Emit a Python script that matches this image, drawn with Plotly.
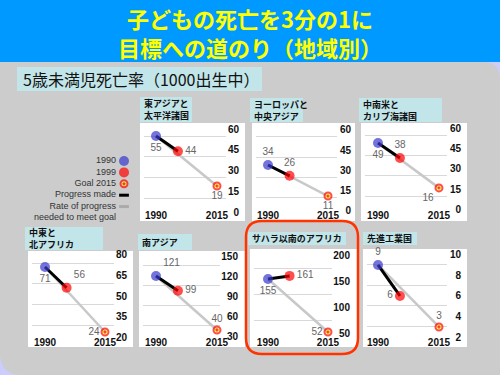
import plotly.graph_objects as go

# ---------------- data ----------------
title_lines = ["子どもの死亡を3分の1に", "目標への道のり（地域別）"]
subtitle = "5歳未満児死亡率（1000出生中）"
regions = ["東アジアと<br>太平洋諸国", "ヨーロッパと<br>中央アジア", "中南米と<br>カリブ海諸国",
           "中東と<br>北アフリカ", "南アジア", "サハラ以南のアフリカ", "先進工業国"]
years = [1990, 1999, 2015]
year_ticks = [1990, 2015]
rate_1990 = [55, 34, 49, 71, 121, 155, 9]
rate_1999 = [44, 26, 38, 56, 99, 161, 6]
goal_2015 = [19, 11, 16, 24, 40, 52, 3]
y_ticks = [[0, 15, 30, 45, 60], [0, 15, 30, 45, 60], [0, 15, 30, 45, 60],
           [20, 35, 50, 65, 80], [30, 60, 90, 120, 150], [50, 100, 150, 200],
           [2, 4, 6, 8, 10]]
legend_labels = ["1990", "1999", "Goal 2015", "Progress made", "Rate of progress",
                 "needed to meet goal"]

# ---------------- layout / style ----------------
W, H = 500, 375
def fx(p): return p / W
def fy(p): return 1 - p / H

panel_box = [(140, 245, 123, 221), (252, 355, 123, 221), (361, 467, 123, 221),
             (28, 133, 251, 347), (139, 245, 251, 347), (250, 357, 249, 347),
             (363, 467, 249, 347)]
label_box = [(140, 192, 97, 122), (250, 303, 98, 122), (359, 442, 98, 122),
             (25, 103, 227, 250), (138, 192, 234, 250), (248, 346, 232, 245),
             (363, 417, 232, 245)]
plot_x = [(144, 242), (256, 354), (365, 464), (32, 130), (143, 241), (254, 353), (367, 464)]
grid_x = [(144, 226), (256, 337), (365, 447), (32, 114), (143, 220), (254, 332), (367, 447)]
x_range = [(1985.08, 2025.25), (1985.0, 2025.83), (1984.67, 2025.25), (1984.58, 2025.42),
           (1984.67, 2024.84), (1984.17, 2025.42), (1985.49, 2025.25)]
# y ranges valid for the domain [box top + 1, box bottom - 1]
y_range = [(-5.43, 63.63), (-6.74, 64.37), (-7.62, 62.97), (13.88, 81.85),
           (16.05, 157.0), (24.9, 211.3), (1.16, 10.45)]
EXT = 10  # extend the axis domain by this many px on both sides (range scaled to match)
grid_shift = [7, 7, 7, 8.5, 9, 13, 10]
year_label_y = [215, 215, 215, 342, 342, 342, 342]
text_pos = [["bottom center", "middle right", "bottom center"],
            ["top center", "top center", "bottom center"],
            ["bottom center", "top center", "bottom left"],
            ["bottom center", "top right", "middle left"],
            ["top right", "middle right", "top center"],
            ["bottom center", "middle right", "middle left"],
            ["top center", "middle left", "top center"]]

BLUE = "#3838CC"
RED = "#FF0000"
YELLOW = "#FFFF00"
GRAYLINE = "#C8C8C8"
CYAN = "#C2E5E9"
NUMFONT = "Liberation Sans, Arial, sans-serif"
CJK = "Noto Sans CJK JP, sans-serif"

fig = go.Figure()
layout = dict(width=W, height=H, margin=dict(l=0, r=0, t=0, b=0),
              paper_bgcolor="#CCCCFF", plot_bgcolor="rgba(0,0,0,0)",
              showlegend=False, hovermode=False)

def ax_name(kind, n):
    return kind + "axis" + ("" if n == 1 else str(n))

def ref(kind, n):
    return kind + ("" if n == 1 else str(n))

for i in range(len(regions)):
    g = 2 * i + 1   # grid subplot (drawn first, underneath)
    d = 2 * i + 2   # data subplot
    wx0, wx1, wy0, wy1 = panel_box[i]
    top_px, bot_px = wy0 + 1, wy1 - 1
    lo, hi = y_range[i]
    upp = (hi - lo) / (bot_px - top_px)
    lo, hi = lo - EXT * upp, hi + EXT * upp
    ydom = [fy(bot_px + EXT), fy(top_px - EXT)]
    sh = grid_shift[i] * upp

    layout[ax_name("x", g)] = dict(domain=[fx(grid_x[i][0]), fx(grid_x[i][1])], range=[0, 1],
                                    anchor=ref("y", g), visible=False, fixedrange=True)
    layout[ax_name("y", g)] = dict(domain=ydom, range=[lo + sh, hi + sh], anchor=ref("x", g),
                                    showgrid=True, gridcolor="#D9D9D9", gridwidth=1,
                                    tickvals=y_ticks[i][1:], showticklabels=False,
                                    zeroline=False, showline=False, ticks="", fixedrange=True)
    fig.add_trace(go.Scatter(x=[], y=[], xaxis=ref("x", g), yaxis=ref("y", g),
                             hoverinfo="skip"))

    layout[ax_name("x", d)] = dict(domain=[fx(plot_x[i][0]), fx(plot_x[i][1])],
                                    range=list(x_range[i]), anchor="free",
                                    position=fy(year_label_y[i] - 7),
                                    tickvals=year_ticks,
                                    ticktext=["<b>%d</b>" % t for t in year_ticks],
                                    tickfont=dict(family=NUMFONT, size=10, color="#111"),
                                    showgrid=False, zeroline=False, showline=False,
                                    ticks="", fixedrange=True)
    layout[ax_name("y", d)] = dict(domain=ydom, range=[lo, hi], anchor=ref("x", d),
                                    side="right", ticklabelposition="inside",
                                    tickvals=y_ticks[i],
                                    ticktext=["<b>%d</b>" % t for t in y_ticks[i]],
                                    tickfont=dict(family=NUMFONT, size=10, color="#111"),
                                    showgrid=False, zeroline=False, showline=False,
                                    ticks="", fixedrange=True)
    xr, yr = ref("x", d), ref("y", d)
    fig.add_trace(go.Scatter(x=[years[0], years[2]], y=[rate_1990[i], goal_2015[i]],
                             mode="lines", line=dict(color=GRAYLINE, width=2.5),
                             xaxis=xr, yaxis=yr, hoverinfo="skip", cliponaxis=False))
    fig.add_trace(go.Scatter(x=[years[0], years[1]], y=[rate_1990[i], rate_1999[i]],
                             mode="lines", line=dict(color="#000000", width=3),
                             xaxis=xr, yaxis=yr, hoverinfo="skip", cliponaxis=False))
    vals = [rate_1990[i], rate_1999[i], goal_2015[i]]
    fig.add_trace(go.Scatter(
        x=years, y=vals, mode="markers+text", text=[str(v) for v in vals],
        textposition=text_pos[i],
        textfont=dict(family=NUMFONT, size=10, color="#666666"),
        marker=dict(symbol=["circle", "circle", "circle-dot"], size=[10, 10, 7],
                    color=[BLUE, RED, YELLOW],
                    line=dict(color=[BLUE, RED, RED], width=[0, 0, 2])),
        xaxis=xr, yaxis=yr, hoverinfo="skip", cliponaxis=False))

# legend subplot
L = 15
layout[ax_name("x", L)] = dict(domain=[fx(110), fx(138)], range=[-1, 1], visible=False,
                                anchor=ref("y", L), fixedrange=True)
layout[ax_name("y", L)] = dict(domain=[fy(223.7), fy(155.3)], range=[5.5, -0.5], visible=False,
                                anchor=ref("x", L), fixedrange=True)
leg_font = dict(family=NUMFONT, size=9, color="#333333")
leg_idx = list(range(len(legend_labels)))
fig.add_trace(go.Scatter(
    x=[0, 0, 0], y=leg_idx[:3], mode="markers",
    marker=dict(symbol=["circle", "circle", "circle-dot"], size=[10, 10, 7],
                color=[BLUE, RED, YELLOW], line=dict(color=[BLUE, RED, RED], width=[0, 0, 2])),
    xaxis=ref("x", L), yaxis=ref("y", L), hoverinfo="skip", cliponaxis=False))
fig.add_trace(go.Scatter(
    x=[0, 0], y=leg_idx[3:5], mode="markers",
    marker=dict(symbol="line-ew", size=7, line=dict(color=["#000000", "#AAAAAA"], width=3)),
    xaxis=ref("x", L), yaxis=ref("y", L), hoverinfo="skip", cliponaxis=False))
fig.add_trace(go.Scatter(
    x=[0] * len(legend_labels), y=leg_idx, mode="markers+text", text=legend_labels,
    textposition="middle left", textfont=leg_font,
    marker=dict(size=11, color="rgba(0,0,0,0)"),
    xaxis=ref("x", L), yaxis=ref("y", L), hoverinfo="skip", cliponaxis=False))

# ---------------- shapes ----------------
def path(cmds):
    out = []
    for c in cmds:
        if isinstance(c, str):
            out.append(c)
        else:
            out.append("%.5f,%.5f" % (fx(c[0]), fy(c[1])))
    return " ".join(out)

def rrect(x0, y0, x1, y1, r):
    return path(["M", (x0 + r, y0), "L", (x1 - r, y0), "Q", (x1, y0), (x1, y0 + r),
                 "L", (x1, y1 - r), "Q", (x1, y1), (x1 - r, y1),
                 "L", (x0 + r, y1), "Q", (x0, y1), (x0, y1 - r),
                 "L", (x0, y0 + r), "Q", (x0, y0), (x0 + r, y0), "Z"])

shapes = []
shapes.append(dict(type="path", xref="paper", yref="paper", layer="below",
                   path=path(["M", (0, 62), "L", (483, 62), "Q", (500, 62), (500, 79),
                              "L", (500, 375), "L", (22, 375), "Q", (0, 375), (0, 353), "Z"]),
                   fillcolor="#CCCCCC", line=dict(width=0)))
shapes.append(dict(type="rect", xref="paper", yref="paper", layer="below",
                   x0=0, x1=1, y0=fy(62), y1=1, fillcolor="#0099FF", line=dict(width=0)))
shapes.append(dict(type="rect", xref="paper", yref="paper", layer="below",
                   x0=fx(17), x1=fx(262), y0=fy(91), y1=fy(67), fillcolor=CYAN,
                   line=dict(width=0)))
for i in range(len(regions)):
    wx0, wx1, wy0, wy1 = panel_box[i]
    shapes.append(dict(type="rect", xref="paper", yref="paper", layer="below",
                       x0=fx(wx0), x1=fx(wx1), y0=fy(wy1), y1=fy(wy0), fillcolor="#FFFFFF",
                       line=dict(width=0)))
    lx0, lx1, ly0, ly1 = label_box[i]
    shapes.append(dict(type="rect", xref="paper", yref="paper", layer="below",
                       x0=fx(lx0), x1=fx(lx1), y0=fy(ly1), y1=fy(ly0), fillcolor=CYAN,
                       line=dict(width=0)))
shapes.append(dict(type="path", xref="paper", yref="paper", layer="above",
                   path=rrect(246, 221, 358, 354, 16), line=dict(color="#FF3300", width=2.5)))
layout["shapes"] = shapes

# ---------------- annotations ----------------
ann = []
ann.append(dict(text="<br>".join(title_lines), x=fx(250), y=fy(33), xref="paper", yref="paper",
                showarrow=False, xanchor="center", yanchor="middle", align="center",
                font=dict(family=CJK, size=22, color=YELLOW, weight="bold")))
ann.append(dict(text=subtitle, x=fx(21), y=fy(79), xref="paper", yref="paper",
                showarrow=False, xanchor="left", yanchor="middle",
                font=dict(family=CJK, size=16, color="#111111")))
for i, name in enumerate(regions):
    lx0, lx1, ly0, ly1 = label_box[i]
    ann.append(dict(text=name, x=fx(lx0 + 2), y=fy((ly0 + ly1) / 2), xref="paper",
                    yref="paper", showarrow=False, xanchor="left", yanchor="middle",
                    align="left",
                    font=dict(family=CJK, size=9, color="#111111", weight="bold")))
layout["annotations"] = ann

fig.update_layout(**layout)
fig.write_html("out.html", config={"displayModeBar": False},
               post_script="document.body.style.margin='0';")
